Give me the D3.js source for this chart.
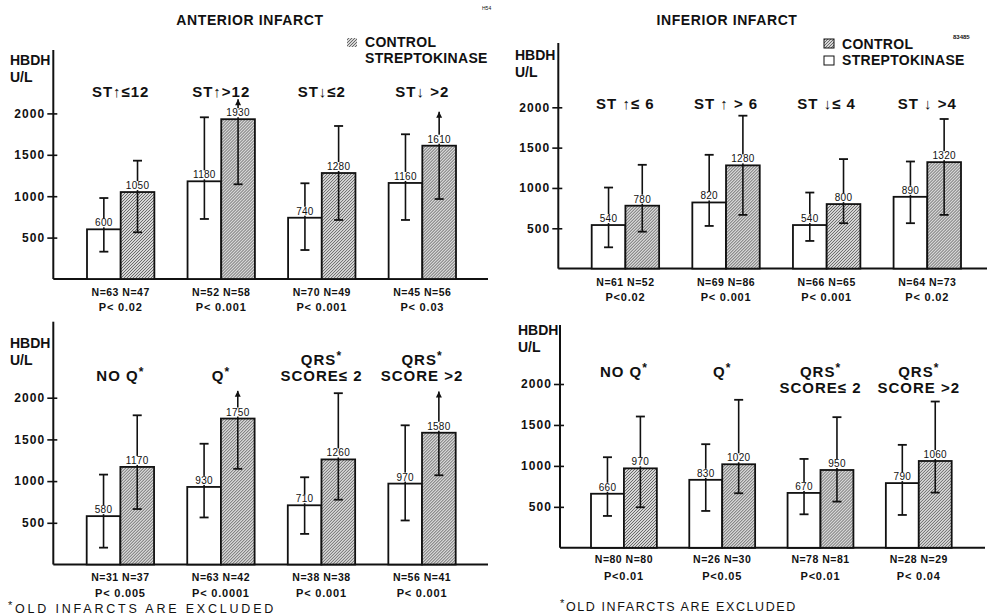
<!DOCTYPE html>
<html><head><meta charset="utf-8">
<script src="https://cdn.jsdelivr.net/npm/d3@7"></script>
<style>
body{margin:0;background:#fff}
svg{display:block}
text{font-family:"Liberation Sans",Arial,sans-serif;fill:#111}
</style>
</head><body><svg id="c" width="987" height="616"></svg>
<script>
// ---------- DATA ----------
const series = ["STREPTOKINASE", "CONTROL"];
const yTicks = [500, 1000, 1500, 2000];

// Anterior infarct, ST groups
const antStCats1 = ["", "", "", ""];
const antStCats2 = ["ST\u2191\u226412", "ST\u2191>12", "ST\u2193\u22642", "ST\u2193 >2"];
const antStStrep = [600, 1180, 740, 1160];
const antStStrepHi = [978, 1953, 1156, 1748];
const antStStrepLo = [330, 725, 350, 713];
const antStCtrl = [1050, 1930, 1280, 1610];
const antStCtrlHi = [1429, 2170, 1848, 2020];
const antStCtrlLo = [564, 1144, 713, 966];
const antStArrow = [false, true, false, true];
const antStN = ["N=63 N=47", "N=52 N=58", "N=70 N=49", "N=45 N=56"];
const antStP = ["P< 0.02", "P< 0.001", "P< 0.001", "P< 0.03"];

// Inferior infarct, ST groups
const infStCats1 = ["", "", "", ""];
const infStCats2 = ["ST \u2191\u2264 6", "ST \u2191 > 6", "ST \u2193\u2264 4", "ST \u2193 >4"];
const infStStrep = [540, 820, 540, 890];
const infStStrepHi = [1005, 1411, 943, 1328];
const infStStrepLo = [264, 529, 343, 563];
const infStCtrl = [780, 1280, 800, 1320];
const infStCtrlHi = [1287, 1896, 1358, 1855];
const infStCtrlLo = [458, 666, 563, 666];
const infStArrow = [false, false, false, false];
const infStN = ["N=61 N=52", "N=69 N=86", "N=66 N=65", "N=64 N=73"];
const infStP = ["P<0.02", "P< 0.001", "P< 0.001", "P< 0.02"];

// Anterior infarct, Q / QRS groups
const antQCats1 = ["", "", "QRS*", "QRS*"];
const antQCats2 = ["NO Q*", "Q*", "SCORE\u2264 2", "SCORE >2"];
const antQStrep = [580, 930, 710, 970];
const antQStrepHi = [1078, 1448, 1046, 1669];
const antQStrepLo = [202, 564, 367, 528];
const antQCtrl = [1170, 1750, 1260, 1580];
const antQCtrlHi = [1789, 2082, 2054, 2075];
const antQCtrlLo = [665, 1147, 777, 1070];
const antQArrow = [false, true, false, true];
const antQN = ["N=31 N=37", "N=63 N=42", "N=38 N=38", "N=56 N=41"];
const antQP = ["P< 0.005", "P< 0.0001", "P< 0.001", "P< 0.001"];

// Inferior infarct, Q / QRS groups
const infQCats1 = ["NO Q*", "Q*", "QRS*", "QRS*"];
const infQCats2 = ["", "", "SCORE\u2264 2", "SCORE >2"];
const infQStrep = [660, 830, 670, 790];
const infQStrepHi = [1106, 1265, 1085, 1257];
const infQStrepLo = [389, 450, 409, 401];
const infQCtrl = [970, 1020, 950, 1060];
const infQCtrlHi = [1603, 1807, 1595, 1786];
const infQCtrlLo = [495, 666, 564, 674];
const infQArrow = [false, false, false, false];
const infQN = ["N=80 N=80", "N=26 N=30", "N=78 N=81", "N=28 N=29"];
const infQP = ["P<0.01", "P<0.05", "P<0.01", "P< 0.04"];

// ---------- DRAW ----------
const svg = d3.select("#c");
const defs = svg.append("defs");
const pat = defs.append("pattern").attr("id", "hatch")
  .attr("patternUnits", "userSpaceOnUse").attr("width", 3).attr("height", 3);
pat.append("rect").attr("width", 3).attr("height", 3).attr("fill", "#d6d6d6");
pat.append("path").attr("d", "M-1,1 l2,-2 M0,3 l3,-3 M2,4 l2,-2")
  .attr("stroke", "#3a3a3a").attr("stroke-width", 0.7);

function build(c1, c2, s, sh, sl, ct, ch, cl, ar, n, p) {
  return c2.map((d, i) => ({
    id: i, l1: c1[i], l2: c2[i], n: n[i], p: p[i],
    vals: [
      {s: "STREPTOKINASE", v: s[i], hi: sh[i], lo: sl[i], arrow: false},
      {s: "CONTROL", v: ct[i], hi: ch[i], lo: cl[i], arrow: ar[i]}
    ]
  }));
}

const panels = [
  {data: build(antStCats1, antStCats2, antStStrep, antStStrepHi, antStStrepLo, antStCtrl, antStCtrlHi, antStCtrlLo, antStArrow, antStN, antStP),
   axisX: 53.3, axisTop: 50, y0: 279, y2000: 113.4, band: [87, 456], baseEnd: 488,
   cat1Y: 80, cat2Y: 97, singleY: 97, nY: 296, pY: 311, hbdh: [10, 65, 82]},
  {data: build(infStCats1, infStCats2, infStStrep, infStStrepHi, infStStrepLo, infStCtrl, infStCtrlHi, infStCtrlLo, infStArrow, infStN, infStP),
   axisX: 558.3, axisTop: 43, y0: 268.6, y2000: 107.3, band: [591.7, 961], baseEnd: 987,
   cat1Y: 92, cat2Y: 108.5, singleY: 108.5, nY: 285.7, pY: 300.7, hbdh: [515, 60, 77]},
  {data: build(antQCats1, antQCats2, antQStrep, antQStrepHi, antQStrepLo, antQCtrl, antQCtrlHi, antQCtrlLo, antQArrow, antQN, antQP),
   axisX: 53.3, axisTop: 321.7, y0: 564.5, y2000: 397.7, band: [86.7, 455.7], baseEnd: 488,
   cat1Y: 364.5, cat2Y: 381, singleY: 381, nY: 580.7, pY: 597.3, hbdh: [10, 348, 365]},
  {data: build(infQCats1, infQCats2, infQStrep, infQStrepHi, infQStrepLo, infQCtrl, infQCtrlHi, infQCtrlLo, infQArrow, infQN, infQP),
   axisX: 560, axisTop: 325, y0: 547.8, y2000: 384, band: [591, 951.7], baseEnd: 985,
   cat1Y: 376.7, cat2Y: 392.7, singleY: 376.7, nY: 563.3, pY: 580, hbdh: [518, 335, 352]}
];

function starText(sel, str) {
  const parts = str.split("*");
  parts.forEach((part, i) => {
    if (part) sel.append("tspan").text(part).attr("dy", i > 0 ? 5 : null);
    if (i < parts.length - 1) {
      sel.append("tspan").text("*").attr("font-size", "12px").attr("dy", -5);
    }
  });
}

panels.forEach(P => {
  const g = svg.append("g");
  const y = d3.scaleLinear().domain([0, 2000]).range([P.y0, P.y2000]);
  const x0 = d3.scaleBand().domain(P.data.map(d => d.id)).range(P.band)
    .paddingInner(0.33).paddingOuter(0);
  const x1 = d3.scaleBand().domain(series).range([0, x0.bandwidth()]).padding(0);

  // y axis
  const ax = g.append("g").attr("transform", `translate(${P.axisX},0)`)
    .call(d3.axisLeft(y).tickValues(yTicks).tickSize(6).tickPadding(2).tickFormat(d3.format("d")));
  ax.select(".domain").remove();
  ax.selectAll(".tick line").attr("x1", 4).attr("stroke", "#111").attr("stroke-width", 1.6);
  ax.selectAll(".tick text").attr("font-size", "12px").attr("font-weight", "bold")
    .attr("letter-spacing", "1.1px").attr("fill", "#111").attr("font-family", '"Liberation Sans",Arial,sans-serif');
  g.append("line").attr("x1", P.axisX).attr("x2", P.axisX).attr("y1", P.axisTop).attr("y2", y(0))
    .attr("stroke", "#111").attr("stroke-width", 2);
  g.append("line").attr("x1", P.axisX).attr("x2", P.baseEnd).attr("y1", y(0)).attr("y2", y(0))
    .attr("stroke", "#111").attr("stroke-width", 2);

  // HBDH label
  g.append("text").attr("x", P.hbdh[0]).attr("y", P.hbdh[1]).attr("font-size", "14px")
    .attr("font-weight", "bold").text("HBDH");
  g.append("text").attr("x", P.hbdh[0]).attr("y", P.hbdh[2]).attr("font-size", "14px")
    .attr("font-weight", "bold").text("U/L");

  const grp = g.selectAll(".grp").data(P.data).join("g")
    .attr("transform", d => `translate(${x0(d.id)},0)`);

  // bars
  grp.selectAll("rect.bar").data(d => d.vals).join("rect").attr("class", "bar")
    .attr("x", d => x1(d.s)).attr("width", x1.bandwidth())
    .attr("y", d => y(d.v)).attr("height", d => y(0) - y(d.v))
    .attr("fill", d => d.s === "CONTROL" ? "url(#hatch)" : "#fff")
    .attr("stroke", "#111").attr("stroke-width", 1.8);

  // error bars
  const eb = grp.selectAll("g.eb").data(d => d.vals).join("g").attr("class", "eb")
    .attr("transform", d => `translate(${x1(d.s) + x1.bandwidth() / 2},0)`);
  eb.append("line").attr("y1", d => y(d.hi)).attr("y2", d => y(d.lo))
    .attr("stroke", "#111").attr("stroke-width", 1.6);
  eb.append("line").attr("x1", -4.5).attr("x2", 4.5).attr("y1", d => y(d.lo)).attr("y2", d => y(d.lo))
    .attr("stroke", "#111").attr("stroke-width", 1.8);
  eb.filter(d => !d.arrow).append("line").attr("x1", -4.5).attr("x2", 4.5)
    .attr("y1", d => y(d.hi)).attr("y2", d => y(d.hi)).attr("stroke", "#111").attr("stroke-width", 1.8);
  eb.filter(d => d.arrow).append("path")
    .attr("d", d => `M0,${y(d.hi)} L-3,${y(d.hi) + 6} L3,${y(d.hi) + 6} Z`).attr("fill", "#111");

  // value labels with white background
  eb.append("rect").attr("x", -12).attr("width", 24).attr("y", d => y(d.v) - 11).attr("height", 9)
    .attr("fill", "#fff");
  eb.append("text").attr("text-anchor", "middle").attr("y", d => y(d.v) - 3)
    .attr("font-size", "10px").attr("letter-spacing", "0.3px").text(d => d.v);

  // category labels
  const cx = x0.bandwidth() / 2;
  grp.each(function(d) {
    const s = d3.select(this);
    const single = !d.l1 || !d.l2;
    if (d.l1) starText(s.append("text").attr("x", cx).attr("text-anchor", "middle")
      .attr("y", single ? P.singleY : P.cat1Y).attr("font-size", "15px").attr("font-weight", "bold")
      .attr("letter-spacing", "1px"), d.l1);
    if (d.l2) starText(s.append("text").attr("x", cx).attr("text-anchor", "middle")
      .attr("y", single ? P.singleY : P.cat2Y).attr("font-size", "15px").attr("font-weight", "bold")
      .attr("letter-spacing", "1px"), d.l2);
  });

  // N and P labels
  grp.append("text").attr("x", cx).attr("y", P.nY).attr("text-anchor", "middle")
    .attr("font-size", "10.5px").attr("font-weight", "bold").attr("letter-spacing", "0.5px").text(d => d.n);
  grp.append("text").attr("x", cx).attr("y", P.pY).attr("text-anchor", "middle")
    .attr("font-size", "11px").attr("font-weight", "bold").attr("letter-spacing", "0.8px").text(d => d.p);
});

// titles
svg.append("text").attr("x", 250).attr("y", 25).attr("text-anchor", "middle").attr("font-size", "14px")
  .attr("font-weight", "bold").attr("letter-spacing", "0.6px").text("ANTERIOR INFARCT");
svg.append("text").attr("x", 727).attr("y", 25).attr("text-anchor", "middle").attr("font-size", "14px")
  .attr("font-weight", "bold").attr("letter-spacing", "0.6px").text("INFERIOR INFARCT");

// legend, anterior
svg.append("rect").attr("x", 347).attr("y", 38).attr("width", 10).attr("height", 9).attr("fill", "url(#hatch)");
svg.append("text").attr("x", 365).attr("y", 47).attr("font-size", "14px").attr("font-weight", "bold")
  .attr("letter-spacing", "0.3px").text("CONTROL");
svg.append("text").attr("x", 365).attr("y", 63).attr("font-size", "14px").attr("font-weight", "bold")
  .attr("letter-spacing", "0.3px").text("STREPTOKINASE");

// legend, inferior
svg.append("rect").attr("x", 824).attr("y", 39).attr("width", 10).attr("height", 9)
  .attr("fill", "url(#hatch)").attr("stroke", "#111").attr("stroke-width", 1);
svg.append("text").attr("x", 842).attr("y", 48.5).attr("font-size", "14px").attr("font-weight", "bold")
  .attr("letter-spacing", "0.3px").text("CONTROL");
svg.append("rect").attr("x", 824).attr("y", 56).attr("width", 10).attr("height", 9)
  .attr("fill", "#fff").attr("stroke", "#111").attr("stroke-width", 1);
svg.append("text").attr("x", 842).attr("y", 65).attr("font-size", "14px").attr("font-weight", "bold")
  .attr("letter-spacing", "0.3px").text("STREPTOKINASE");

// tiny reference numbers
svg.append("text").attr("x", 482).attr("y", 10).attr("font-size", "5px").attr("fill", "#666").text("H54");
svg.append("text").attr("x", 953).attr("y", 39).attr("font-size", "6px").attr("font-weight", "bold").text("83485");

// footnotes
function foot(x, yv, ls) {
  const t = svg.append("text").attr("x", x).attr("y", yv).attr("font-size", "12.5px")
    .attr("letter-spacing", ls);
  t.append("tspan").text("*").attr("font-size", "11px").attr("dy", -4);
  t.append("tspan").text("OLD INFARCTS ARE EXCLUDED").attr("dy", 4);
}
foot(8, 613, "2.8px");
foot(560, 611, "1.6px");
</script>
</body></html>
